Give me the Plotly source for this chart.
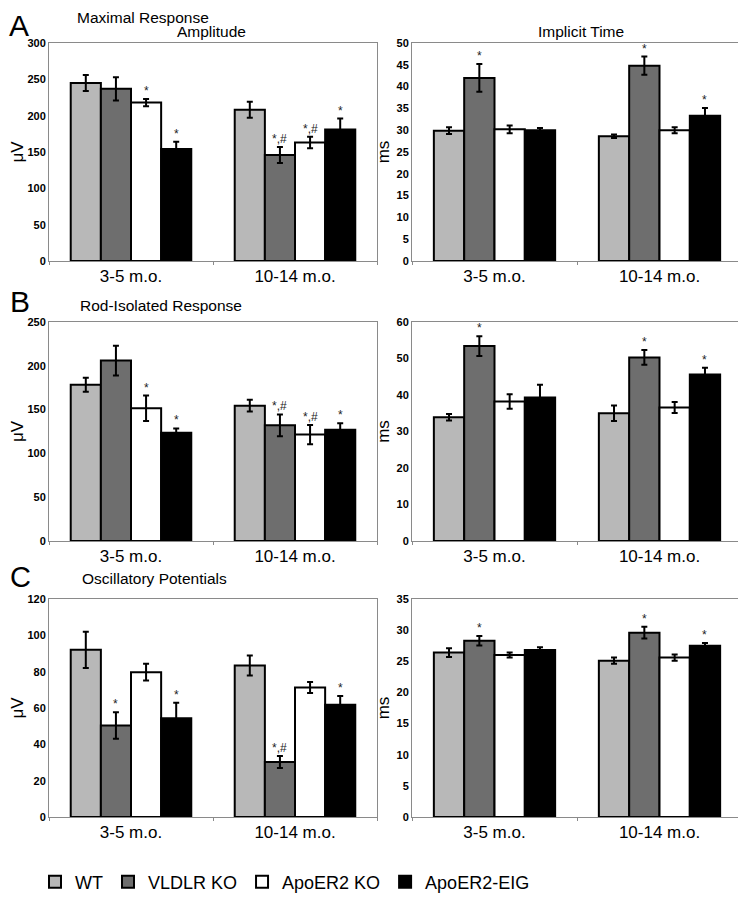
import plotly.graph_objects as go

categories = ["3-5 m.o.", "10-14 m.o."]
groups = ["WT", "VLDLR KO", "ApoER2 KO", "ApoER2-EIG"]
colors = ["#b8b8b8", "#6e6e6e", "#ffffff", "#000000"]

# Panel A - Maximal response
maxamp_vals = [[245, 208], [237, 146], [218, 163], [154, 181]]
maxamp_errs = [[11, 11], [16, 11], [5, 8], [10, 15]]
maxamp_sig = [["", ""], ["", "*,#"], ["*", "*,#"], ["*", "*"]]

maxit_vals = [[29.9, 28.6], [42.0, 44.8], [30.2, 30.0], [30.0, 33.3]]
maxit_errs = [[0.8, 0.4], [3.2, 2.1], [0.9, 0.7], [0.5, 1.8]]
maxit_sig = [["", ""], ["*", "*"], ["", ""], ["", "*"]]

# Panel B - Rod-isolated response
rodamp_vals = [[178.5, 154.5], [206, 132], [151.5, 121.5], [123.5, 127]]
rodamp_errs = [[8, 6.7], [17, 12.5], [14.5, 11], [5, 7.5]]
rodamp_sig = [["", ""], ["", "*,#"], ["*", "*,#"], ["*", "*"]]

rodit_vals = [[33.9, 35.0], [53.4, 50.3], [38.2, 36.6], [39.3, 45.6]]
rodit_errs = [[0.9, 2.1], [2.7, 2.0], [2.0, 1.5], [3.5, 1.9]]
rodit_sig = [["", ""], ["*", "*"], ["", ""], ["", "*"]]

# Panel C - Oscillatory potentials
opamp_vals = [[92, 83.4], [50.4, 30.3], [79.7, 71.3], [54.4, 61.8]]
opamp_errs = [[10, 5.5], [7.3, 3.3], [4.6, 3.0], [8.5, 4.8]]
opamp_sig = [["", ""], ["*", "*,#"], ["", ""], ["*", "*"]]

opit_vals = [[26.4, 25.1], [28.3, 29.6], [26.0, 25.6], [26.8, 27.5]]
opit_errs = [[0.7, 0.5], [0.75, 0.95], [0.4, 0.5], [0.45, 0.45]]
opit_sig = [["", ""], ["*", "*"], ["", ""], ["", "*"]]

panels = [
    (maxamp_vals, maxamp_errs, maxamp_sig, 300, 50, "μV"),
    (maxit_vals, maxit_errs, maxit_sig, 50, 5, "ms"),
    (rodamp_vals, rodamp_errs, rodamp_sig, 250, 50, "μV"),
    (rodit_vals, rodit_errs, rodit_sig, 60, 10, "ms"),
    (opamp_vals, opamp_errs, opamp_sig, 120, 20, "μV"),
    (opit_vals, opit_errs, opit_sig, 35, 5, "ms"),
]

# page offset of the figure (default body margin) and figure size
OFF = 8
W, H = 746 - OFF, 900 - OFF


def fx(px):
    return (px - OFF) / W


def fy(py):
    return 1 - (py - OFF) / H


xdom_px = [(49, 377), (412, 742)]
ydom_px = [(43, 261), (322, 541), (599, 817)]

BARGAP = 0.265
FONT = "Liberation Sans, Arial, sans-serif"

fig = go.Figure()
annotations = []
layout = {}

for p, (vals, errs, sig, ymax, dtick, ytitle) in enumerate(panels):
    row, col = divmod(p, 2)
    ax = "" if p == 0 else str(p + 1)
    for j, g in enumerate(groups):
        fig.add_trace(go.Bar(
            x=categories, y=vals[j], name=g,
            marker=dict(color=colors[j], line=dict(color="black", width=2)),
            error_y=dict(type="data", array=errs[j], color="black", thickness=2, width=3),
            xaxis="x" + ax, yaxis="y" + ax,
            showlegend=(p == 0), legendgroup=g,
        ))
        bw = (1 - BARGAP) / len(groups)
        for i in range(len(categories)):
            if sig[j][i]:
                annotations.append(dict(
                    x=i + (j - 1.5) * bw, y=vals[j][i] + errs[j][i],
                    xref="x" + ax, yref="y" + ax, text=sig[j][i],
                    showarrow=False, yanchor="bottom", yshift=-1,
                    font=dict(size=12, color="#222", family=FONT),
                ))
    x0, x1 = xdom_px[col]
    y0, y1 = ydom_px[row]
    layout["xaxis" + ax] = dict(
        domain=[fx(x0), fx(x1)], anchor="y" + ax, type="category",
        showline=True, linecolor="#8a8a8a", linewidth=1, mirror=True,
        ticks="outside", tickson="boundaries", ticklen=3, tickcolor="#8a8a8a",
        tickfont=dict(size=17, color="black", family=FONT),
        automargin=False,
    )
    layout["yaxis" + ax] = dict(
        domain=[fy(y1), fy(y0)], anchor="x" + ax,
        range=[0, ymax], dtick=dtick, showgrid=False, zeroline=False,
        showline=True, linecolor="#8a8a8a", linewidth=1, mirror=True,
        ticks="",
        tickfont=dict(size=11, color="black", family=FONT, weight="bold"),
        title=dict(text=ytitle, font=dict(size=17, color="black", family=FONT), standoff=2),
        automargin=False,
    )

texts = [
    ("Amplitude", 211, 32, 15.5, "center"),
    ("Implicit Time", 581, 32, 15.5, "center"),
    ("B", 8, 301, 30, "left"),
    ("Rod-Isolated Response", 78, 306, 15.5, "left"),
    ("C", 8, 577, 29, "left"),
    ("Oscillatory Potentials", 80, 578, 15.5, "left"),
]
for t, x, y, s, anc in texts:
    annotations.append(dict(
        text=t, x=fx(x), y=fy(y), xref="paper", yref="paper",
        xanchor=anc, yanchor="middle", showarrow=False,
        font=dict(size=s, color="black", family=FONT),
    ))
annotations.append(dict(
    text="Maximal Response", x=fx(76), y=1, xref="paper", yref="paper",
    xanchor="left", yanchor="top", showarrow=False, borderpad=0,
    font=dict(size=15.5, color="black", family=FONT),
))
annotations.append(dict(
    text="A", x=0, y=1, xref="paper", yref="paper", xanchor="left", yanchor="top",
    showarrow=False, borderpad=0, font=dict(size=30, color="black", family=FONT),
))

fig.update_layout(
    width=W, height=H, margin=dict(l=0, r=0, t=0, b=0, autoexpand=False),
    plot_bgcolor="white", paper_bgcolor="white",
    barmode="group", bargap=BARGAP, bargroupgap=0,
    annotations=annotations,
    legend=dict(orientation="h", x=fx(35), y=fy(882), xanchor="left", yanchor="middle",
                font=dict(size=18, color="black", family=FONT),
                itemsizing="constant", tracegroupgap=0),
    **layout,
)

fig.write_html("out.html")
